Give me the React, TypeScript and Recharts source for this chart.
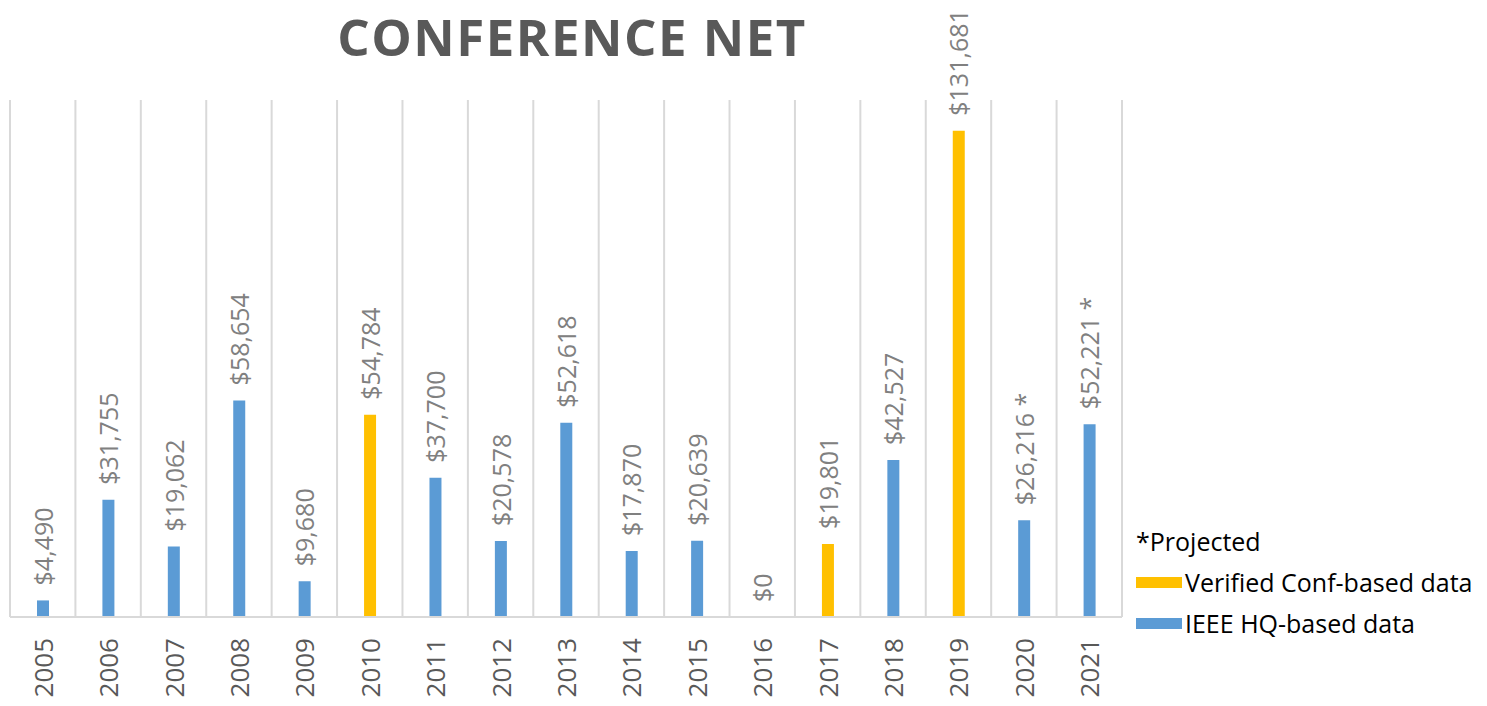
import React from "react";
import { ComposedChart, Bar, Line, XAxis, YAxis, CartesianGrid, Cell } from "recharts";

const years = ["2005", "2006", "2007", "2008", "2009", "2010", "2011", "2012", "2013", "2014", "2015", "2016", "2017", "2018", "2019", "2020", "2021"];
const netValues = [4490, 31755, 19062, 58654, 9680, 54784, 37700, 20578, 52618, 17870, 20639, 0, 19801, 42527, 131681, 26216, 52221];
// "verified" = conference-based data, "hq" = IEEE HQ-based data
const sources = ["hq", "hq", "hq", "hq", "hq", "verified", "hq", "hq", "hq", "hq", "hq", "hq", "verified", "hq", "verified", "hq", "hq"];
const projected = ["2020", "2021"];

const COLORS: Record<string, string> = { verified: "#FFC000", hq: "#5B9BD5" };
const FONT = "'Open Sans', sans-serif";

const fmt = (v: number) => "$" + v.toLocaleString("en-US");

const data = years.map((year, i) => ({
  year,
  net: netValues[i],
  source: sources[i],
  label: fmt(netValues[i]) + (projected.includes(year) ? " *" : ""),
}));

const YearTick = ({ x, y, payload }: any) => (
  <text
    x={x}
    y={y + 13}
    transform={`rotate(-90, ${x}, ${y + 13})`}
    textAnchor="end"
    dominantBaseline="central"
    fill="#595959"
    fontSize={26}
    fontFamily={FONT}
  >
    {payload.value}
  </text>
);

// labels hang off an invisible line so the $0 year still gets one
const ValueLabel = ({ x, y, index }: any) => {
  const ty = y - 15;
  return (
    <text
      x={x}
      y={ty}
      transform={`rotate(-90, ${x}, ${ty})`}
      textAnchor="start"
      dominantBaseline="central"
      fill="#808080"
      fontSize={25}
      fontFamily={FONT}
    >
      {data[index].label}
    </text>
  );
};

export default function App() {
  return (
    <div style={{ position: "absolute", left: 0, top: 0, width: 1487, height: 706, background: "#fff" }}>
      <ComposedChart
        width={1487}
        height={706}
        data={data}
        margin={{ top: 100, right: 365, bottom: 0, left: 10 }}
      >
        <text
          x={572}
          y={36}
          textAnchor="middle"
          dominantBaseline="central"
          fill="#595959"
          fontSize={51}
          fontWeight="bold"
          fontFamily={FONT}
          letterSpacing={1.5}
        >
          CONFERENCE NET
        </text>
        <CartesianGrid
          horizontal={false}
          stroke="#D9D9D9"
          strokeWidth={2}
          verticalCoordinatesGenerator={({ offset }: any) =>
            years.map((_, i) => offset.left + (i * offset.width) / years.length).concat(offset.left + offset.width)
          }
        />
        <XAxis
          dataKey="year"
          height={89}
          interval={0}
          tickLine={false}
          axisLine={{ stroke: "#D9D9D9", strokeWidth: 2 }}
          tick={<YearTick />}
        />
        <YAxis hide domain={[0, 140000]} />
        <Bar dataKey="net" barSize={12} isAnimationActive={false}>
          {data.map((d) => (
            <Cell key={d.year} fill={COLORS[d.source]} />
          ))}
        </Bar>
        <Line
          dataKey="net"
          stroke="none"
          dot={false}
          activeDot={false}
          legendType="none"
          isAnimationActive={false}
          label={<ValueLabel />}
        />
      </ComposedChart>
      <div style={{ position: "absolute", left: 1136, top: 521, fontFamily: FONT, fontSize: 25, color: "#000", lineHeight: "41px" }}>
        <div>*Projected</div>
        <div style={{ display: "flex", alignItems: "center" }}>
          <span style={{ display: "inline-block", width: 46, height: 11, background: COLORS.verified, marginRight: 3 }} />
          Verified Conf-based data
        </div>
        <div style={{ display: "flex", alignItems: "center" }}>
          <span style={{ display: "inline-block", width: 46, height: 11, background: COLORS.hq, marginRight: 3 }} />
          IEEE HQ-based data
        </div>
      </div>
    </div>
  );
}
